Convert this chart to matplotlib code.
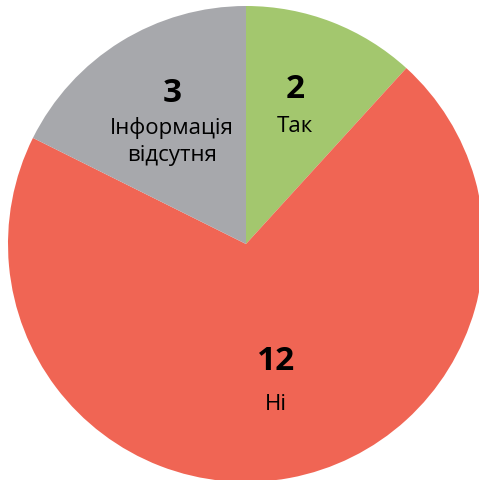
import matplotlib.pyplot as plt

# slice data, clockwise from 12 o'clock
labels = ['Так', 'Ні', 'Інформація\nвідсутня']
values = [2, 12, 3]
colors = ['#a3c76e', '#f06554', '#a7a8ac']

fig = plt.figure(figsize=(4.79, 4.81), dpi=100)
ax = fig.add_axes([0, 0, 1, 1])

cx, cy, r = 246, 236, 238
ax.pie(values, colors=colors, startangle=90, counterclock=False,
       center=(cx, cy), radius=r, frame=True,
       wedgeprops=dict(linewidth=0))
ax.set_xlim(0, 479)
ax.set_ylim(0, 481)
ax.set_aspect('equal')
ax.axis('off')

# label positions (pixel coords from top-left): x, number y, first text line y
pos = [(295, 90, 127), (276, 362, 405), (172, 93, 128)]
font = 'Open Sans'
for (x, yn, yl), v, lab in zip(pos, values, labels):
    ax.text(x, 481 - yn, str(v), ha='center', va='center', fontsize=24,
            fontweight='bold', family=font)
    for i, line in enumerate(lab.split('\n')):
        ax.text(x, 481 - yl - 28 * i, line, ha='center', va='center',
                fontsize=16, family=font)

fig.savefig('out.png', dpi=100)
